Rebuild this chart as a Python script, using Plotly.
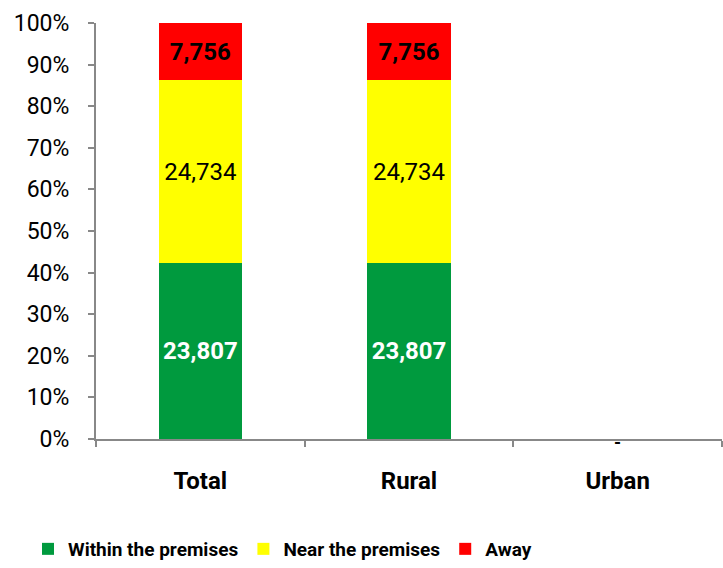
import numpy as np
import plotly.graph_objects as go

categories = ["Total", "Rural", "Urban"]
series_names = ["Within the premises", "Near the premises", "Away"]
within = [23807, 23807, 0]
near = [24734, 24734, 0]
away = [7756, 7756, 0]
colors = ["#009A3E", "#FFFF00", "#FF0000"]
text_colors = ["white", "black", "black"]
text_bold = [True, False, True]
y_ticks = [0, 10, 20, 30, 40, 50, 60, 70, 80, 90, 100]
y_tick_labels = [f"{t}%" for t in y_ticks]

vals = np.array([within, near, away], dtype=float)
totals = vals.sum(axis=0)
pct = np.divide(vals * 100, totals, out=np.zeros_like(vals), where=totals > 0)

FONT = "Roboto, Arial, sans-serif"

fig = go.Figure()
for i, name in enumerate(series_names):
    labels = [f"{int(v):,}" if v > 0 else "" for v in vals[i]]
    if text_bold[i]:
        labels = [f"<b>{t}</b>" if t else "" for t in labels]
    fig.add_trace(go.Bar(
        x=categories, y=pct[i], name=name,
        marker=dict(color=colors[i], line=dict(width=0)),
        text=labels, textposition="inside", insidetextanchor="middle",
        textangle=0,
        textfont=dict(color=text_colors[i], size=24, family=FONT),
        constraintext="none",
    ))

# dash label for categories with no data
for c, t in zip(categories, totals):
    if t == 0:
        fig.add_annotation(x=c, y=0, text="<b>-</b>", showarrow=False,
                           yanchor="middle", yshift=-3,
                           font=dict(size=18, color="black", family=FONT))

fig.update_layout(
    barmode="stack", bargap=0.6,
    width=723, height=568,
    margin=dict(l=96, r=1, t=23, b=129, autoexpand=False),
    plot_bgcolor="white", paper_bgcolor="white",
    font=dict(family=FONT, color="black"),
    showlegend=True,
    legend=dict(orientation="h", traceorder="normal",
                x=28 / 723, xanchor="left", xref="container",
                y=1 - 549 / 568, yanchor="middle", yref="container",
                font=dict(size=19, family=FONT, color="black", weight="bold"),
                itemwidth=30, tracegroupgap=0),
    yaxis=dict(range=[0, 100], tickvals=y_ticks, ticktext=y_tick_labels,
               showgrid=False, showline=True, linecolor="#888888", linewidth=2,
               ticks="outside", ticklen=6, tickcolor="#888888", tickwidth=2,
               ticklabelstandoff=14, automargin=False,
               tickfont=dict(size=23, family=FONT, color="black"), zeroline=False),
    xaxis=dict(showline=True, linecolor="#888888", linewidth=2,
               ticks="outside", tickson="boundaries", ticklen=6,
               tickcolor="#888888", tickwidth=2, automargin=False,
               ticklabelstandoff=19,
               tickfont=dict(size=24, family=FONT, color="black", weight="bold"),
               ticktext=categories, tickvals=categories),
)
fig.write_html("out.html", config={"displayModeBar": False})

# remove default page margin so the figure sits at the window's top-left corner
with open("out.html", "r", encoding="utf-8") as f:
    html = f.read()
html = html.replace("<head>", "<head><style>html,body{margin:0;padding:0;overflow:hidden;}</style>", 1)
with open("out.html", "w", encoding="utf-8") as f:
    f.write(html)
